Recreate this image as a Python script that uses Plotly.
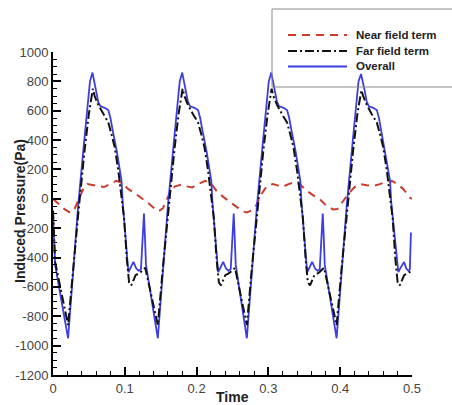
import plotly.graph_objects as go

# ---------------- data ----------------
near_t = [0.000, 0.008, 0.016, 0.024, 0.030, 0.036, 0.042, 0.048, 0.056, 0.064, 0.071, 0.079,
          0.088, 0.096, 0.105, 0.115, 0.124, 0.133, 0.141, 0.147, 0.153, 0.158, 0.164, 0.170,
          0.178, 0.186, 0.194, 0.202, 0.212, 0.220, 0.229, 0.238, 0.247, 0.256, 0.264, 0.270,
          0.276, 0.282, 0.290, 0.298, 0.306, 0.314, 0.320, 0.328, 0.335, 0.343, 0.352, 0.362,
          0.372, 0.381, 0.390, 0.396, 0.403, 0.411, 0.420, 0.428, 0.437, 0.446, 0.455, 0.464,
          0.472, 0.480, 0.488, 0.497, 0.500]
near_p = [0, -35, -70, -95, -70, 0, 65, 100, 92, 85, 80, 100,
          122, 110, 66, 35, 5, -30, -65, -85, -65, -15, 55, 85,
          95, 85, 78, 100, 122, 105, 45, 10, -25, -59, -85, -93,
          -80, -55, 30, 88, 100, 90, 82, 100, 111, 105, 60, 25,
          -5, -48, -72, -70, -25, 32, 80, 100, 92, 88, 100, 115,
          122, 100, 66, 9, 0]

far_t = [0.000, 0.003,
         0.021, 0.028, 0.036, 0.044, 0.050, 0.0555, 0.058, 0.063, 0.070, 0.077, 0.082, 0.086,
         0.091, 0.0955, 0.099, 0.103, 0.106, 0.109, 0.112, 0.115, 0.119, 0.122, 0.1285,
         0.146, 0.153, 0.161, 0.169, 0.175, 0.1805, 0.183, 0.188, 0.195, 0.202, 0.207, 0.211,
         0.216, 0.2205, 0.224, 0.228, 0.231, 0.234, 0.237, 0.240, 0.244, 0.247, 0.2535,
         0.270, 0.277, 0.285, 0.293, 0.299, 0.3045, 0.307, 0.312, 0.319, 0.326, 0.331, 0.335,
         0.340, 0.3445, 0.348, 0.352, 0.355, 0.358, 0.361, 0.364, 0.368, 0.371, 0.3775,
         0.395, 0.402, 0.410, 0.418, 0.424, 0.4295, 0.432, 0.437, 0.444, 0.451, 0.456, 0.460,
         0.465, 0.4695, 0.473, 0.477, 0.480, 0.483, 0.486, 0.489, 0.493, 0.496, 0.498]
far_p = [-80, -430,
         -860, -470, -60, 330, 580, 750, 700, 640, 576, 520, 430, 350,
         190, 30, -130, -420, -570, -590, -550, -520, -510, -500, -470,
         -860, -470, -60, 330, 580, 750, 700, 640, 576, 520, 430, 350,
         190, 30, -130, -420, -570, -590, -550, -520, -510, -500, -470,
         -860, -470, -60, 330, 580, 750, 700, 640, 576, 520, 430, 350,
         190, 30, -130, -420, -570, -590, -550, -520, -510, -500, -470,
         -860, -470, -60, 330, 580, 740, 700, 640, 576, 520, 430, 350,
         190, 30, -130, -420, -570, -590, -550, -520, -510, -500, -495]

overall_t = [0.000, 0.003,
             0.021, 0.028, 0.035, 0.043, 0.0515, 0.055, 0.057, 0.060, 0.063, 0.066, 0.072, 0.077,
             0.080, 0.083, 0.089, 0.0955, 0.097, 0.105, 0.108, 0.112, 0.116, 0.1195, 0.1225,
             0.1255, 0.1267, 0.128, 0.1295,
             0.146, 0.153, 0.160, 0.168, 0.1765, 0.180, 0.182, 0.185, 0.188, 0.191, 0.197, 0.202,
             0.205, 0.208, 0.214, 0.2205, 0.222, 0.230, 0.233, 0.237, 0.241, 0.2445, 0.2475,
             0.2505, 0.2517, 0.253, 0.2545,
             0.270, 0.277, 0.284, 0.292, 0.3005, 0.304, 0.306, 0.309, 0.312, 0.315, 0.321, 0.326,
             0.329, 0.332, 0.338, 0.3445, 0.346, 0.354, 0.357, 0.361, 0.365, 0.3685, 0.3715,
             0.3745, 0.3757, 0.377, 0.3785,
             0.395, 0.402, 0.409, 0.417, 0.4255, 0.429, 0.431, 0.434, 0.437, 0.440, 0.446, 0.451,
             0.454, 0.457, 0.463, 0.4695, 0.471, 0.481, 0.484, 0.489, 0.492, 0.495, 0.497,
             0.4985]
overall_p = [-100, -450,
             -950, -500, -50, 370, 800, 860, 810, 740, 660, 630, 620, 605,
             550, 470, 320, 120, -20, -500, -470, -430, -475, -490, -480,
             -250, -100, -250, -450,
             -950, -500, -50, 370, 800, 860, 810, 740, 660, 630, 620, 605,
             550, 470, 320, 120, -20, -500, -470, -430, -475, -490, -480,
             -250, -100, -250, -450,
             -950, -500, -50, 370, 800, 860, 810, 740, 660, 630, 620, 605,
             550, 470, 320, 120, -20, -500, -470, -430, -475, -490, -480,
             -250, -100, -250, -450,
             -950, -500, -50, 370, 800, 850, 810, 740, 660, 630, 620, 605,
             550, 470, 320, 120, -20, -500, -470, -430, -475, -490, -480,
             -230]

series_names = ["Near field term", "Far field term", "Overall"]
x_tick_vals = [0, 0.1, 0.2, 0.3, 0.4, 0.5]
x_tick_text = ["0", "0.1", "0.2", "0.3", "0.4", "0.5"]
y_tick_vals = [-1200, -1000, -800, -600, -400, -200, 0, 200, 400, 600, 800, 1000]
y_tick_text = ["-1200", "-1000", "-800", "-600", "-400", "-200", "0", "200", "400", "600", "800", "1000"]

# ---------------- style ----------------
RED = "#cc3b2e"
BLACK = "#111111"
BLUE = "#3d3de0"
RED_DASH = "8px,6px"
BLACK_DASH = "9px,3px,2px,3px"
FONT = "Liberation Sans, Arial, sans-serif"

W, H = 452, 405
L, T = 53, 52
R = W - 412
B = H - 375
PW, PH = W - L - R, H - T - B


def px2paper_x(px):
    return (px - L) / PW


def px2paper_y(py):
    return (H - B - py) / PH


fig = go.Figure()
fig.add_trace(go.Scatter(x=near_t, y=near_p, mode="lines", name=series_names[0],
                         line=dict(color=RED, width=2, dash=RED_DASH)))
fig.add_trace(go.Scatter(x=overall_t, y=overall_p, mode="lines", name=series_names[2],
                         line=dict(color=BLUE, width=1.8)))
fig.add_trace(go.Scatter(x=far_t, y=far_p, mode="lines", name=series_names[1],
                         line=dict(color=BLACK, width=2, dash=BLACK_DASH)))

axis_common = dict(showgrid=False, zeroline=False, showline=True, linecolor="black", linewidth=2,
                   ticks="inside", ticklen=8, tickwidth=1.5, tickcolor="black",
                   tickfont=dict(family=FONT, size=13, color="#444"), mirror=False)

fig.update_xaxes(range=[0, 0.5], tickvals=x_tick_vals, ticktext=x_tick_text,
                 minor=dict(dtick=0.02, ticklen=4, tickwidth=1, tickcolor="black", ticks="inside"),
                 **axis_common)
fig.update_yaxes(range=[-1200, 1000], tickvals=y_tick_vals, ticktext=y_tick_text,
                 minor=dict(dtick=50, ticklen=4, tickwidth=1, tickcolor="black", ticks="inside"),
                 **axis_common)

annotations = [
    dict(text="<b>Time</b>", xref="paper", yref="paper", x=0.5, y=px2paper_y(397),
         xanchor="center", yanchor="middle", showarrow=False,
         font=dict(family=FONT, size=14, color="#222")),
    dict(text="<b>Induced Pressure(Pa)</b>", xref="paper", yref="paper", x=px2paper_x(20),
         y=px2paper_y(211), xanchor="center", yanchor="middle", textangle=-90, showarrow=False,
         font=dict(family=FONT, size=14, color="#222")),
]
# legend frame: its right side runs off the picture
BOX_L, BOX_R, BOX_T, BOX_B = 272, 480, 9, 87
frame = dict(color="#8a8a8a", width=1)
shapes = [
    dict(type="line", xref="paper", yref="paper", x0=px2paper_x(BOX_L), x1=px2paper_x(BOX_R),
         y0=px2paper_y(BOX_T), y1=px2paper_y(BOX_T), line=frame),
    dict(type="line", xref="paper", yref="paper", x0=px2paper_x(BOX_L), x1=px2paper_x(BOX_R),
         y0=px2paper_y(BOX_B), y1=px2paper_y(BOX_B), line=frame),
    dict(type="line", xref="paper", yref="paper", x0=px2paper_x(BOX_L), x1=px2paper_x(BOX_L),
         y0=px2paper_y(BOX_B), y1=px2paper_y(BOX_T), line=frame),
]
legend_rows = [(35, RED, RED_DASH, 2), (51, BLACK, BLACK_DASH, 2), (66.5, BLUE, "solid", 1.8)]
for (ypx, col, dash, w), name in zip(legend_rows, series_names):
    shapes.append(dict(type="line", xref="paper", yref="paper", x0=px2paper_x(288),
                       x1=px2paper_x(347), y0=px2paper_y(ypx), y1=px2paper_y(ypx),
                       line=dict(color=col, width=w, dash=dash)))
    annotations.append(dict(text="<b>%s</b>" % name, xref="paper", yref="paper",
                            x=px2paper_x(354), y=px2paper_y(ypx), xanchor="left",
                            yanchor="middle", showarrow=False,
                            font=dict(family=FONT, size=11.5, color="#222")))

fig.update_layout(width=W, height=H, margin=dict(l=L, r=R, t=T, b=B, autoexpand=False),
                  paper_bgcolor="white", plot_bgcolor="white", showlegend=False,
                  annotations=annotations, shapes=shapes)

fig.write_html("out.html", config={"displayModeBar": False},
               post_script="document.body.style.margin='0';document.body.style.overflow='hidden';")
